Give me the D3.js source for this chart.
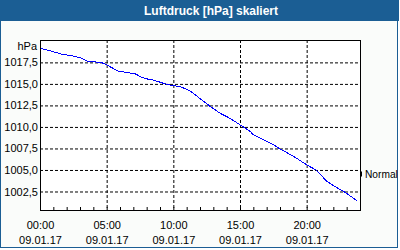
<!DOCTYPE html>
<html>
<head>
<meta charset="utf-8">
<script src="https://cdn.jsdelivr.net/npm/d3@7"></script>
<style>
  html, body { margin: 0; padding: 0; background: #ffffff; }
  text { font-family: "Liberation Sans", Arial, sans-serif; }
</style>
</head>
<body>
<div id="chart"></div>
<script>
// chart data
var title = "Luftdruck [hPa] skaliert";
var unit = "hPa";
var hours = [0, 0.85, 1.75, 2.35, 3.1, 3.6, 4.6, 5, 5.85, 6.6, 7.1, 7.6, 8.1, 8.5, 9.4, 9.9, 10.5, 11.25,
  12.25, 12.75, 13.5, 14.25, 15, 15.75, 16, 16.75, 17.5, 18, 19, 20, 20.75, 21.5, 22.25, 22.75, 23.75];
var pressure = [1019.15, 1018.8, 1018.4, 1018.3, 1018.0, 1017.6, 1017.5, 1017.2, 1016.5, 1016.3, 1016.2,
  1015.8, 1015.55, 1015.45, 1015.0, 1014.8, 1014.7, 1014.2, 1013.0, 1012.4, 1011.6, 1011.0, 1010.25,
  1009.5, 1009.1, 1008.5, 1007.95, 1007.45, 1006.6, 1005.6, 1004.95, 1003.7, 1002.95, 1002.55, 1001.45];
var yTicks = [1002.5, 1005.0, 1007.5, 1010.0, 1012.5, 1015.0, 1017.5];
var xTicks = [0, 5, 10, 15, 20];
var xTimeLabels = ["00:00", "05:00", "10:00", "15:00", "20:00"];
var xDateLabels = ["09.01.17", "09.01.17", "09.01.17", "09.01.17", "09.01.17"];
var minorTicks = d3.range(1, 24);
var normalValue = 1004.65;
var normalLabel = "Normal";

var svgWidth = 400;
var svgHeight = 250;
var margin = { top: 40, right: 40, bottom: 40, left: 40 };
var width = 320;
var height = 170;

var blue = "#1b5e94";

var svg = d3.select("#chart")
  .append("svg")
  .attr("width", svgWidth)
  .attr("height", svgHeight)
  .style("display", "block");

// frame + title bar
svg.append("rect")
  .attr("x", 0.5).attr("y", 0.5)
  .attr("width", 397).attr("height", 247)
  .attr("fill", "#fafcfa")
  .attr("stroke", blue);

svg.append("rect")
  .attr("x", 0).attr("y", 0)
  .attr("width", 399).attr("height", 21)
  .attr("fill", blue);

svg.append("text")
  .attr("x", 211)
  .attr("y", 15)
  .attr("text-anchor", "middle")
  .attr("fill", "#ffffff")
  .attr("font-size", "12px")
  .attr("font-weight", "bold")
  .text(title);

var chartGroup = svg.append("g")
  .attr("transform", `translate(${margin.left}, ${margin.top})`);

var xScale = d3.scaleLinear().domain([0, 24]).range([0, width]);
var yScale = d3.scaleLinear().domain([1000.35, 1020.1]).range([height, 0]);

// plot background
chartGroup.append("rect")
  .attr("width", width).attr("height", height)
  .attr("fill", "#ffffff");

// horizontal grid + labels
var leftAxis = d3.axisLeft(yScale)
  .tickValues(yTicks)
  .tickSize(-width)
  .tickPadding(2)
  .tickFormat(d => d3.format(".1f")(d).replace(".", ","));

var yAxisG = chartGroup.append("g").call(leftAxis);
yAxisG.select(".domain").remove();
yAxisG.selectAll(".tick line")
  .attr("stroke", "#000")
  .attr("stroke-dasharray", "3,2");
yAxisG.selectAll(".tick text")
  .attr("font-size", "11px")
  .attr("fill", "#000")
  .attr("font-family", "Liberation Sans, Arial, sans-serif");

// vertical grid
var gridX = d3.axisBottom(xScale)
  .tickValues(xTicks.slice(1))
  .tickSize(height)
  .tickFormat("");
var xGridG = chartGroup.append("g").call(gridX);
xGridG.select(".domain").remove();
xGridG.selectAll(".tick line")
  .attr("stroke", "#000")
  .attr("stroke-dasharray", "3,2");

// minor ticks pointing inward
var minorAxis = d3.axisTop(xScale)
  .tickValues(minorTicks)
  .tickSize(3)
  .tickFormat("");
var minorG = chartGroup.append("g")
  .attr("transform", `translate(0, ${height})`)
  .call(minorAxis);
minorG.select(".domain").remove();
minorG.selectAll(".tick line").attr("stroke", "#000");

// x labels (two lines)
var bottomAxis = d3.axisBottom(xScale)
  .tickValues(xTicks)
  .tickSize(0)
  .tickFormat("");
var xAxisG = chartGroup.append("g")
  .attr("transform", `translate(0, ${height})`)
  .call(bottomAxis);
xAxisG.select(".domain").remove();
xAxisG.selectAll(".tick").each(function(d, i) {
  var t = d3.select(this).append("text")
    .attr("fill", "#000")
    .attr("font-size", "11px")
    .attr("text-anchor", "middle");
  t.append("tspan").attr("x", 0).attr("y", 18.5).text(xTimeLabels[i]);
  t.append("tspan").attr("x", 0).attr("y", 33.5).text(xDateLabels[i]);
});

// pressure line
var line = d3.line()
  .x((d, i) => xScale(hours[i]))
  .y(d => yScale(d));

chartGroup.append("path")
  .datum(pressure)
  .attr("d", line)
  .attr("fill", "none")
  .attr("stroke", "#0000ff")
  .attr("stroke-width", 1)
  .attr("shape-rendering", "crispEdges");

// plot frame
chartGroup.append("rect")
  .attr("x", 0.5).attr("y", 0.5)
  .attr("width", width).attr("height", height)
  .attr("fill", "none")
  .attr("stroke", "#000");

// unit label
chartGroup.append("text")
  .attr("x", -3)
  .attr("y", 10)
  .attr("text-anchor", "end")
  .attr("font-size", "11px")
  .attr("fill", "#000")
  .text(unit);

// normal marker on right axis
var ny = Math.round(yScale(normalValue)) + 0.5;
chartGroup.append("line")
  .attr("x1", width + 1.5).attr("x2", width + 1.5)
  .attr("y1", ny - 2).attr("y2", ny + 3)
  .attr("stroke", "#000");
chartGroup.append("text")
  .attr("x", width + 5)
  .attr("y", ny + 4)
  .attr("font-size", "10.2px")
  .attr("fill", "#000")
  .text(normalLabel);
</script>
</body>
</html>
